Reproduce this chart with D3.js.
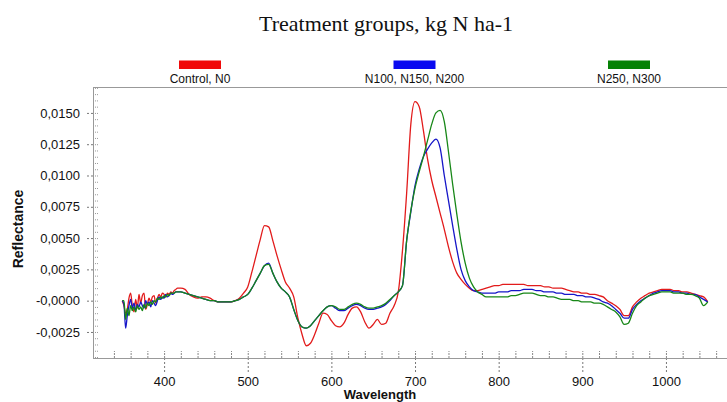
<!DOCTYPE html>
<html>
<head>
<meta charset="utf-8">
<script src="https://cdn.jsdelivr.net/npm/d3@7"></script>
<style>
  body { margin: 0; background: #fff; }
  svg { display: block; }
</style>
</head>
<body>
<svg id="chart" width="727" height="402"></svg>
<script>
// Wavelength grid (nm): 2 nm steps in the noisy blue end, 5 nm steps afterwards
const wavelengths = [
  350,352,354,356,358,360,362,364,366,368,
  370,372,374,376,378,380,382,384,386,388,
  390,392,394,396,398,400,402,404,406,408,
  410,412,414,416,418,420,
  425,430,435,440,445,450,455,460,465,470,
  475,480,485,490,495,500,505,510,515,520,
  525,530,535,540,545,550,555,560,565,570,
  575,580,585,590,595,600,605,610,615,620,
  625,630,635,640,645,650,655,660,665,670,
  675,680,685,690,695,700,705,710,715,720,
  725,730,735,740,745,750,755,760,765,770,
  775,780,785,790,795,800,805,810,815,820,
  825,830,835,840,845,850,855,860,865,870,
  875,880,885,890,895,900,905,910,915,920,
  925,930,935,940,945,950,955,960,965,970,
  975,980,985,990,995,1000,1005,1010,1015,1020,
  1025,1030,1035,1040,1045,1050
];

// Reflectance, Control N0
const control = [
  0,-0.0004,-0.0010,-0.0007,0.0002,0.0006,-0.0004,-0.0009,0.0001,-0.0006,
  0.0005,-0.0002,0.0004,0.0006,-0.0007,-0.0003,0.0002,-0.0001,0.0003,0.0004,
  -0.0002,0.0002,0.0005,0.0003,0.0006,0.0005,0.0003,0.0006,0.0005,0.0007,
  0.0006,0.0008,0.0009,0.0010,0.0010,0.0010,
  0.0009,0.0005,0.0003,0.0002,0.0003,0.0003,0.0002,0.0000,-0.0001,-0.0001,
  -0.0001,-0.0001,0.0000,0.0002,0.0006,0.0011,0.0023,0.0036,0.0049,0.0060,
  0.0059,0.0048,0.0036,0.0025,0.0015,0.0010,0.0003,-0.0014,-0.0027,-0.0036,
  -0.0034,-0.0027,-0.0018,-0.0010,-0.0011,-0.0016,-0.0020,-0.0021,-0.0018,-0.0011,
  -0.0006,-0.0005,-0.0009,-0.0017,-0.0022,-0.0019,-0.0015,-0.0019,-0.0018,-0.0010,
  -0.0004,0.0007,0.0040,0.0086,0.0141,0.0159,0.0155,0.0136,0.0113,0.0096,
  0.0083,0.0070,0.0057,0.0043,0.0031,0.0022,0.0017,0.0013,0.0010,0.0008,
  0.0008,0.0009,0.0010,0.0011,0.0012,0.0012,0.0013,0.0013,0.0013,0.0013,
  0.0013,0.0013,0.0012,0.0012,0.0012,0.0012,0.0011,0.0011,0.0010,0.0010,
  0.0010,0.0009,0.0008,0.0007,0.0007,0.0006,0.0006,0.0005,0.0005,0.0004,
  0.0003,0.0000,-0.0002,-0.0004,-0.0007,-0.0012,-0.0012,-0.0005,-0.0001,0.0002,
  0.0004,0.0006,0.0007,0.0008,0.0009,0.0009,0.0009,0.0008,0.0008,0.0007,
  0.0007,0.0006,0.0005,0.0004,0.0003,-0.0001
];

// Reflectance, N100 / N150 / N200
const n100to200 = [
  0,-0.0003,-0.0022,-0.0012,-0.0004,0.0001,-0.0006,-0.0002,-0.0008,-0.0003,
  -0.0005,-0.0001,-0.0004,-0.0006,0.0000,-0.0003,-0.0001,-0.0005,0.0000,-0.0002,
  -0.0004,0.0000,0.0003,0.0001,0.0003,0.0002,0.0005,0.0003,0.0004,0.0006,
  0.0005,0.0006,0.0007,0.0007,0.0007,0.0007,
  0.0006,0.0005,0.0004,0.0003,0.0002,0.0001,0.0000,0.0000,-0.0001,-0.0001,
  -0.0001,-0.0001,0.0000,0.0001,0.0003,0.0005,0.0010,0.0016,0.0022,0.0028,
  0.0030,0.0022,0.0015,0.0010,0.0007,0.0003,-0.0007,-0.0016,-0.0021,-0.0022,
  -0.0020,-0.0016,-0.0012,-0.0008,-0.0005,-0.0004,-0.0006,-0.0008,-0.0008,-0.0006,
  -0.0004,-0.0003,-0.0004,-0.0006,-0.0007,-0.0007,-0.0006,-0.0005,-0.0003,0.0000,
  0.0004,0.0007,0.0012,0.0048,0.0071,0.0092,0.0105,0.0115,0.0121,0.0126,
  0.0129,0.0122,0.0100,0.0080,0.0060,0.0041,0.0025,0.0016,0.0011,0.0008,
  0.0007,0.0006,0.0006,0.0006,0.0006,0.0007,0.0007,0.0007,0.0008,0.0008,
  0.0008,0.0009,0.0009,0.0009,0.0008,0.0008,0.0007,0.0007,0.0007,0.0006,
  0.0006,0.0005,0.0005,0.0005,0.0004,0.0004,0.0003,0.0003,0.0002,0.0001,
  -0.0001,-0.0002,-0.0004,-0.0007,-0.0010,-0.0014,-0.0014,-0.0007,-0.0003,0.0000,
  0.0002,0.0004,0.0006,0.0007,0.0008,0.0008,0.0008,0.0007,0.0007,0.0006,
  0.0006,0.0005,0.0005,0.0003,0.0001,-0.0001
];

// Reflectance, N250 / N300
const n250to300 = [
  0,0.0000,-0.0015,-0.0006,-0.0012,-0.0004,-0.0008,-0.0005,-0.0009,-0.0004,
  -0.0007,-0.0005,-0.0008,-0.0003,-0.0006,-0.0002,-0.0004,-0.0001,-0.0003,0.0000,
  -0.0001,0.0002,0.0001,0.0003,0.0002,0.0004,0.0003,0.0005,0.0004,0.0006,
  0.0006,0.0006,0.0007,0.0007,0.0007,0.0007,
  0.0006,0.0005,0.0004,0.0003,0.0002,0.0001,0.0000,0.0000,-0.0001,-0.0001,
  -0.0001,-0.0001,0.0000,0.0001,0.0003,0.0005,0.0010,0.0016,0.0022,0.0028,
  0.0029,0.0022,0.0015,0.0010,0.0007,0.0003,-0.0007,-0.0016,-0.0021,-0.0022,
  -0.0020,-0.0016,-0.0012,-0.0008,-0.0005,-0.0004,-0.0005,-0.0007,-0.0007,-0.0005,
  -0.0003,-0.0002,-0.0003,-0.0005,-0.0006,-0.0006,-0.0005,-0.0004,-0.0002,0.0001,
  0.0004,0.0007,0.0012,0.0048,0.0072,0.0090,0.0103,0.0115,0.0128,0.0141,
  0.0150,0.0152,0.0143,0.0119,0.0093,0.0069,0.0047,0.0030,0.0018,0.0011,
  0.0007,0.0005,0.0003,0.0003,0.0003,0.0003,0.0003,0.0003,0.0004,0.0004,
  0.0005,0.0006,0.0006,0.0006,0.0005,0.0004,0.0004,0.0003,0.0003,0.0002,
  0.0001,0.0001,0.0001,0.0000,0.0000,-0.0001,-0.0001,-0.0001,-0.0002,-0.0002,
  -0.0003,-0.0005,-0.0007,-0.0009,-0.0013,-0.0019,-0.0018,-0.0010,-0.0004,-0.0001,
  0.0002,0.0004,0.0005,0.0006,0.0007,0.0007,0.0007,0.0006,0.0006,0.0006,
  0.0005,0.0005,0.0004,0.0002,-0.0004,-0.0001
];

const seriesNames = ["Control, N0", "N100, N150, N200", "N250, N300"];
const xTickValues = [400, 500, 600, 700, 800, 900, 1000];
const yTickValues = [-0.0025, 0, 0.0025, 0.005, 0.0075, 0.01, 0.0125, 0.015];
const titleText = "Treatment groups, kg N ha-1";
const xTitle = "Wavelength";
const yTitle = "Reflectance";

const lineColors = ["#e21b1b", "#1616c8", "#178717"];
const swatchColors = ["#f00a0a", "#0a0af0", "#068206"];
const legendCenters = [200, 414.5, 629];

const svg = d3.select("#chart");
const plot = { left: 93, right: 727, top: 87, bottom: 358 };

const x = d3.scaleLinear().domain([315, 1073]).range([plot.left, plot.right]);
const y = d3.scaleLinear().domain([-0.00458, 0.01707]).range([plot.bottom, plot.top]);

const sans = "'Liberation Sans', Arial, sans-serif";

// Title
svg.append("text")
  .attr("x", 386).attr("y", 31)
  .attr("text-anchor", "middle")
  .attr("font-family", "'Liberation Serif', 'Times New Roman', serif")
  .attr("font-size", 22)
  .attr("fill", "#111")
  .text(titleText);

// Legend
const legend = svg.append("g");
seriesNames.forEach((name, i) => {
  legend.append("rect")
    .attr("x", legendCenters[i] - 21).attr("y", 60.5)
    .attr("width", 42).attr("height", 8.5)
    .attr("fill", swatchColors[i]);
  legend.append("text")
    .attr("x", legendCenters[i]).attr("y", 83)
    .attr("text-anchor", "middle")
    .attr("font-family", sans).attr("font-size", 12)
    .attr("fill", "#111")
    .text(name);
});

// Minor ticks (inside the frame)
const xMinor = d3.range(340, 1061, 20);
const yMinor = d3.range(-45, 171, 5).map(v => v / 10000);

svg.append("g")
  .attr("transform", `translate(0,${plot.bottom})`)
  .call(d3.axisBottom(x).tickValues(xMinor).tickSize(-7).tickFormat(""))
  .call(g => g.select(".domain").remove())
  .call(g => g.selectAll("line").attr("stroke", "#888").attr("stroke-dasharray", "2,1"));

svg.append("g")
  .attr("transform", `translate(${plot.left},0)`)
  .call(d3.axisLeft(y).tickValues(yMinor).tickSize(-6).tickFormat(""))
  .call(g => g.select(".domain").remove())
  .call(g => g.selectAll("line").attr("stroke", "#999").attr("stroke-dasharray", "1,1"));

// Major x ticks and labels
svg.append("g")
  .attr("transform", `translate(0,${plot.bottom})`)
  .call(d3.axisBottom(x).tickValues(xTickValues).tickSize(14).tickPadding(5).tickFormat(d3.format("d")))
  .call(g => g.select(".domain").remove())
  .call(g => g.selectAll("line").attr("stroke", "#777").attr("stroke-dasharray", "2,2"))
  .call(g => g.selectAll("text").attr("font-family", sans).attr("font-size", 13).attr("fill", "#111"));

// Major y ticks and labels (decimal comma, zero written as -0,0000)
const yFmt = d => (d <= 0 ? "-" : "") + Math.abs(d).toFixed(4).replace(".", ",");
svg.append("g")
  .attr("transform", `translate(${plot.left},0)`)
  .call(d3.axisLeft(y).tickValues(yTickValues).tickSize(7).tickPadding(6).tickFormat(yFmt))
  .call(g => g.select(".domain").remove())
  .call(g => g.selectAll("line").attr("stroke", "#777").attr("stroke-dasharray", "2,2"))
  .call(g => g.selectAll("text").attr("font-family", sans).attr("font-size", 13).attr("fill", "#111"));

// Frame
const frame = svg.append("g").attr("stroke", "#999").attr("stroke-width", 1).attr("fill", "none");
frame.append("line").attr("x1", plot.left + 0.5).attr("x2", plot.left + 0.5).attr("y1", plot.top).attr("y2", plot.bottom);
frame.append("line").attr("x1", plot.left).attr("x2", plot.right).attr("y1", plot.top + 0.5).attr("y2", plot.top + 0.5);
frame.append("line").attr("x1", plot.left).attr("x2", plot.right).attr("y1", plot.bottom + 0.5).attr("y2", plot.bottom + 0.5);

// Spectra
const series = [control, n100to200, n250to300];
const line = d3.line()
  .x((d, i) => x(wavelengths[i]))
  .y(d => y(d))
  .curve(d3.curveMonotoneX);

svg.append("g")
  .selectAll("path")
  .data(series)
  .join("path")
  .attr("d", d => line(d))
  .attr("fill", "none")
  .attr("stroke", (d, i) => lineColors[i])
  .attr("stroke-width", 1.3)
  .attr("stroke-linejoin", "round");

// Axis titles
svg.append("text")
  .attr("transform", "translate(23,229) rotate(-90)")
  .attr("text-anchor", "middle")
  .attr("font-family", sans).attr("font-size", 14).attr("font-weight", "bold")
  .attr("fill", "#111")
  .text(yTitle);

svg.append("text")
  .attr("x", 380).attr("y", 398.5)
  .attr("text-anchor", "middle")
  .attr("font-family", sans).attr("font-size", 13).attr("font-weight", "bold")
  .attr("fill", "#111")
  .text(xTitle);
</script>
</body>
</html>
